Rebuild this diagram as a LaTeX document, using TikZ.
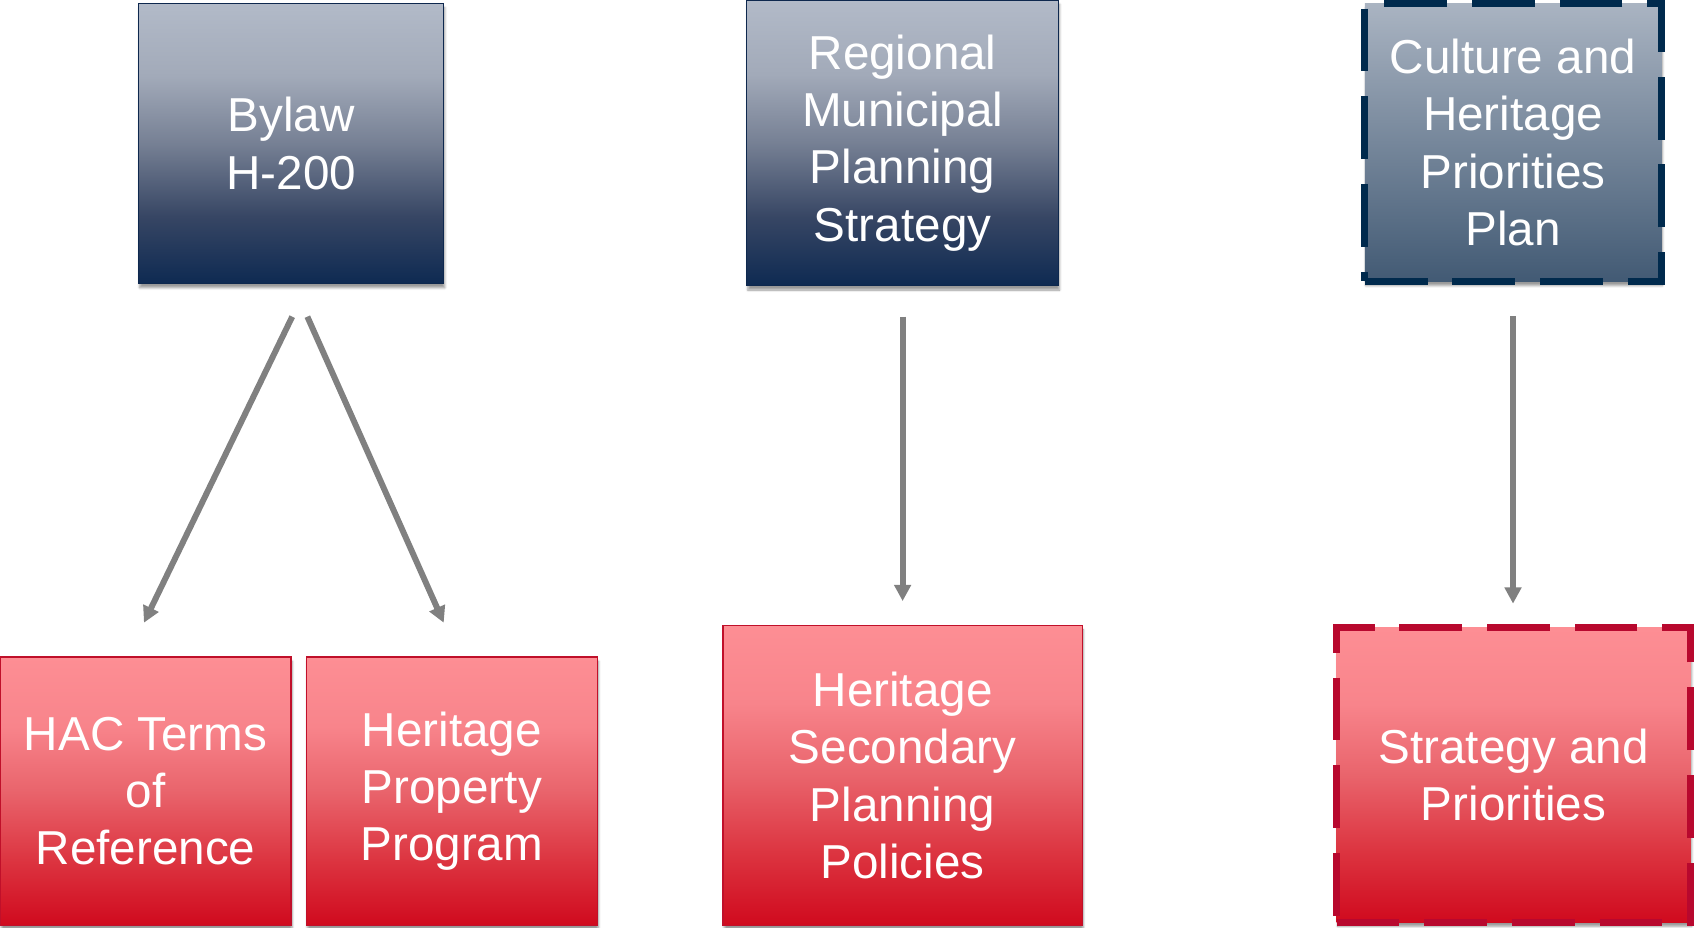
\documentclass[tikz,border=0pt]{standalone}
\usepackage{fontspec}
\setmainfont{Liberation Sans}
\usetikzlibrary{arrows.meta,shadows.blur}
\definecolor{navyedge}{RGB}{14,40,78}
\definecolor{n0}{RGB}{14,42,82}
\definecolor{n1}{RGB}{55,70,100}
\definecolor{n2}{RGB}{118,128,148}
\definecolor{n3}{RGB}{162,170,185}
\definecolor{n4}{RGB}{178,186,200}
\definecolor{c0}{RGB}{66,90,116}
\definecolor{c1}{RGB}{170,180,194}
\definecolor{cedge}{RGB}{0,42,77}
\definecolor{r0}{RGB}{208,10,30}
\definecolor{r1}{RGB}{220,52,64}
\definecolor{r2}{RGB}{233,100,108}
\definecolor{r3}{RGB}{248,132,139}
\definecolor{r4}{RGB}{253,142,148}
\definecolor{redge}{RGB}{192,16,42}
\definecolor{sedge}{RGB}{184,8,46}
\definecolor{arrgray}{RGB}{128,128,128}
\pgfdeclareverticalshading{navysh}{100bp}{color(0bp)=(n0); color(25bp)=(n0); color(37bp)=(n1); color(50bp)=(n2); color(62bp)=(n3); color(75bp)=(n4); color(100bp)=(n4)}
\pgfdeclareverticalshading{redsh}{100bp}{color(0bp)=(r0); color(25bp)=(r0); color(37bp)=(r1); color(50bp)=(r2); color(62bp)=(r3); color(75bp)=(r4); color(100bp)=(r4)}
\pgfdeclareverticalshading{cultsh}{100bp}{color(0bp)=(c0); color(25bp)=(c0); color(75bp)=(c1); color(100bp)=(c1)}
\begin{document}
\begin{tikzpicture}[x=1pt,y=1pt,
  box/.style={rectangle, inner sep=0pt, align=center, text=white,
    font=\fontsize{44}{53}\selectfont,
    blur shadow={shadow xshift=1pt, shadow yshift=-4pt, shadow opacity=40, shadow blur steps=6}},
  navybox/.style={box, draw=navyedge, line width=1.2pt, shading=navysh},
  cultbox/.style={box, draw=cedge, line width=6.5pt, dash pattern=on 58pt off 23pt, shading=cultsh},
  redbox/.style={box, draw=redge, line width=1.2pt, shading=redsh},
  stratbox/.style={box, draw=sedge, line width=6.5pt, dash pattern=on 58pt off 23pt, shading=redsh},
  arr/.style={draw=arrgray, line width=5.5pt, -{Triangle[length=15pt,width=15pt]}}
]
\useasboundingbox (0,0) rectangle (1568,857);

\node[navybox, minimum width=282pt, minimum height=259pt] (bylaw) at (269,724.5) {Bylaw\\H-200};
\node[navybox, minimum width=288pt, minimum height=264pt] (reg) at (834,725) {Regional\\Municipal\\Planning\\Strategy};
\node[cultbox, minimum width=274pt, minimum height=257pt] (cul) at (1398,725.5) {Culture and\\Heritage\\Priorities\\Plan};

\node[redbox, minimum width=269pt, minimum height=248pt] (hac) at (134.5,126) {HAC Terms\\of\\Reference};
\node[redbox, minimum width=269pt, minimum height=248pt] (hp) at (417.5,126) {Heritage\\Property\\Program};
\node[redbox, minimum width=332pt, minimum height=277pt] (hs) at (834,140.5) {Heritage\\Secondary\\Planning\\Policies};
\node[stratbox, minimum width=327pt, minimum height=272pt] (str) at (1398.5,141) {Strategy and\\Priorities};

\draw[arr] ([xshift=1pt,yshift=-30pt]bylaw.south) -- ([xshift=-1.5pt,yshift=31pt]hac.north);
\draw[arr] ([xshift=15pt,yshift=-30pt]bylaw.south) -- ([xshift=-7.5pt,yshift=31pt]hp.north);
\draw[arr] ([yshift=-28pt]reg.south) -- ([yshift=22pt]hs.north);
\draw[arr] ([yshift=-29pt]cul.south) -- ([xshift=-0.5pt,yshift=19pt]str.north);
\end{tikzpicture}
\end{document}
